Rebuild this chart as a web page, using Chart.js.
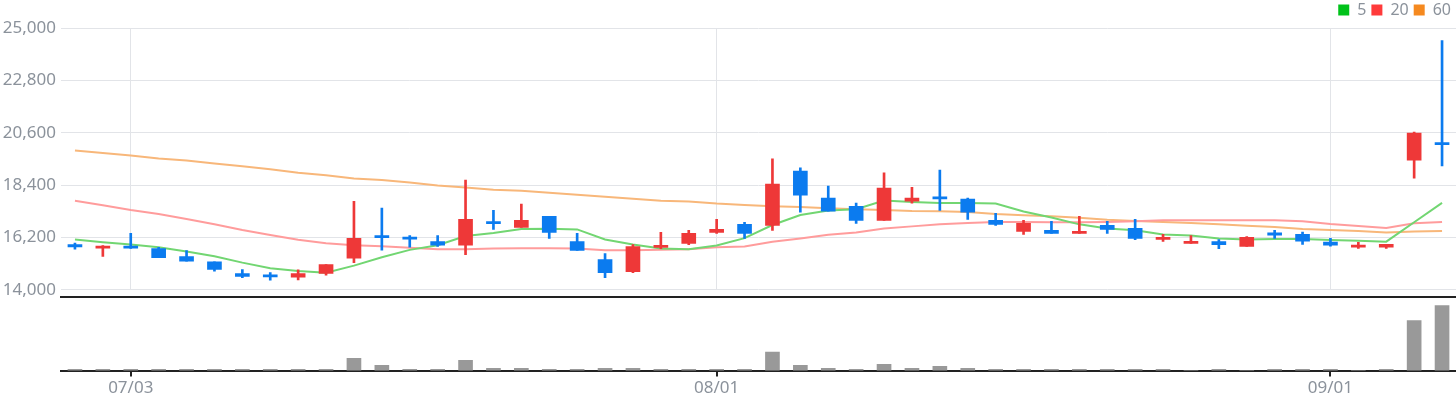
<!DOCTYPE html>
<html>
<head>
<meta charset="utf-8">
<script src="https://cdn.jsdelivr.net/npm/chart.js@4.4.0/dist/chart.umd.min.js"></script>
<style>
  html, body { margin: 0; padding: 0; background: #fff; overflow: hidden; }
  #wrap { position: relative; width: 1456px; height: 400px; overflow: hidden; }
  #price_chart { position: absolute; left: 0; top: -3px; }
  #volume_chart { position: absolute; left: 0; top: 296px; }
</style>
</head>
<body>
<div id="wrap">
  <canvas id="price_chart" width="1456" height="308"></canvas>
  <canvas id="volume_chart" width="1456" height="104"></canvas>
</div>
<script>
// trading days, 2023-06-29 .. 2023-09-07
const dates = ['06/29', '06/30', '07/03', '07/04', '07/05', '07/06', '07/07', '07/10', '07/11', '07/12',
  '07/13', '07/14', '07/17', '07/18', '07/19', '07/20', '07/21', '07/24', '07/25', '07/26',
  '07/27', '07/28', '07/31', '08/01', '08/02', '08/03', '08/04', '08/07', '08/08', '08/09',
  '08/10', '08/11', '08/14', '08/16', '08/17', '08/18', '08/21', '08/22', '08/23', '08/24',
  '08/25', '08/28', '08/29', '08/30', '08/31', '09/01', '09/04', '09/05', '09/06', '09/07'];
const monthTicks = ['07/03', '08/01', '09/01'];
const priceTicks = [14000, 16200, 18400, 20600, 22800, 25000];

const openPrices = [15900, 15750, 15830, 15730, 15400, 15180, 14680, 14600, 14530, 14690,
  15330, 16240, 16200, 16030, 15880, 16830, 16620, 17090, 16030, 15270,
  14760, 15780, 15950, 16410, 16750, 16710, 18990, 17850, 17510, 16920,
  17720, 17890, 17810, 16920, 16450, 16500, 16370, 16710, 16580, 16120,
  15950, 16030, 15820, 16390, 16330, 16000, 15790, 15790, 19450, 20170];
const highPrices = [15960, 15860, 16370, 15780, 15650, 15180, 14850, 14720, 14840, 15060,
  17720, 17430, 16280, 16280, 18610, 17340, 17600, 17090, 16370, 15520,
  15900, 16410, 16500, 16960, 16830, 19500, 19120, 18360, 17640, 18910,
  18310, 19030, 17850, 17210, 16920, 16880, 17090, 16880, 16960, 16330,
  16280, 16110, 16240, 16500, 16420, 16160, 15990, 15910, 20630, 24470];
const lowPrices = [15710, 15400, 15740, 15350, 15200, 14780, 14510, 14400, 14420, 14610,
  15140, 15660, 15790, 15820, 15480, 16540, 16620, 16160, 15650, 14510,
  14720, 15730, 15900, 16370, 16160, 16500, 17260, 17300, 16790, 16920,
  17640, 17340, 16960, 16710, 16330, 16370, 16370, 16370, 16110, 16030,
  15950, 15730, 15820, 16160, 15910, 15830, 15740, 15740, 18690, 19200];
const closePrices = [15800, 15820, 15750, 15350, 15200, 14860, 14560, 14540, 14680, 15060,
  16160, 16190, 16130, 15880, 16960, 16780, 16920, 16410, 15650, 14720,
  15820, 15860, 16370, 16540, 16370, 18440, 17980, 17300, 16920, 18270,
  17850, 17820, 17260, 16750, 16790, 16370, 16420, 16540, 16160, 16200,
  16030, 15900, 16200, 16300, 16040, 15870, 15870, 15910, 20590, 20100];

const ma5 = [16115, 16002, 15904, 15791, 15607, 15410, 15142, 14902, 14790, 14719,
  15015, 15368, 15678, 15875, 16256, 16383, 16552, 16566, 16538, 16115,
  15904, 15734, 15706, 15861, 16171, 16721, 17144, 17328, 17384, 17751,
  17694, 17652, 17652, 17624, 17290, 17040, 16750, 16580, 16500, 16320,
  16284, 16157, 16115, 16136, 16136, 16094, 16065, 16023, 16838, 17653];
const ma20 = [17737, 17553, 17356, 17187, 16975, 16750, 16510, 16298, 16101, 15960,
  15875, 15833, 15763, 15706, 15706, 15734, 15748, 15748, 15734, 15664,
  15664, 15678, 15706, 15791, 15819, 16016, 16157, 16312, 16411, 16580,
  16665, 16750, 16806, 16848, 16848, 16834, 16834, 16848, 16876, 16919,
  16919, 16919, 16922, 16922, 16880, 16768, 16684, 16599, 16796, 16852];
const ma60 = [19852, 19750, 19640, 19513, 19429, 19302, 19189, 19062, 18921, 18808,
  18681, 18611, 18512, 18385, 18300, 18202, 18160, 18075, 17990, 17906,
  17821, 17737, 17708, 17624, 17567, 17511, 17483, 17426, 17384, 17356,
  17314, 17299, 17271, 17187, 17130, 17088, 17032, 16947, 16891, 16848,
  16806, 16750, 16693, 16641, 16557, 16515, 16473, 16403, 16445, 16473];

const volumes = [40, 40, 40, 40, 40, 40, 40, 40, 40, 40,
  370, 160, 40, 40, 310, 70, 70, 40, 40, 70,
  70, 40, 40, 40, 40, 560, 160, 70, 40, 190,
  70, 130, 70, 40, 40, 40, 40, 40, 40, 40,
  8, 40, 8, 40, 40, 40, 8, 40, 1510, 1960];

const maNames = ['5', '20', '60'];
const maLegendColors = ['#00c21a', '#ff3a3a', '#f5891f'];
const maLineColors = ['#72d672', '#ff9c9c', '#f8b77a'];

const UP = '#ee3838';
const DOWN = '#0b7bef';
const GRAY = '#8b929b';
const GRID = '#e2e4e8';

Chart.defaults.font.family = "'Noto Sans', sans-serif";
Chart.defaults.font.size = 17;

const candleColors = dates.map((d, i) => closePrices[i] >= openPrices[i] ? UP : DOWN);
const onlyMonthTicks = axis => {
  axis.ticks = axis.ticks.filter(t => monthTicks.includes(dates[t.value]));
};

const PriceChart = document.getElementById('price_chart').getContext('2d');
new Chart(PriceChart, {
  type: 'bar',
  data: {
    labels: dates,
    datasets: [
      {
        label: 'wick',
        data: dates.map((d, i) => [lowPrices[i], highPrices[i]]),
        backgroundColor: candleColors,
        barThickness: 2,
        grouped: false,
        order: 1
      },
      {
        label: 'body',
        data: dates.map((d, i) => [openPrices[i], closePrices[i]]),
        backgroundColor: candleColors,
        barThickness: 14,
        minBarLength: 2,
        grouped: false,
        order: 0
      },
      ...[ma5, ma20, ma60].map((vals, k) => ({
        type: 'line',
        label: maNames[k],
        data: vals,
        borderColor: maLineColors[k],
        backgroundColor: maLegendColors[k],
        borderWidth: 2,
        pointRadius: 0,
        tension: 0,
        fill: false,
        order: 2
      }))
    ]
  },
  options: {
    responsive: false,
    animation: false,
    layout: { padding: { left: 0, right: 0, top: 0, bottom: 8 } },
    plugins: {
      tooltip: { enabled: false },
      legend: {
        position: 'top',
        align: 'end',
        labels: {
          boxWidth: 11,
          boxHeight: 11,
          padding: 5,
          color: GRAY,
          font: { size: 16 },
          generateLabels: () => maNames.map((name, i) => ({
            text: name,
            fillStyle: maLegendColors[i],
            strokeStyle: maLegendColors[i],
            lineWidth: 0,
            hidden: false,
            datasetIndex: i + 2,
            fontColor: GRAY
          }))
        }
      }
    },
    scales: {
      x: {
        offset: true,
        afterBuildTicks: onlyMonthTicks,
        ticks: { display: false, autoSkip: false },
        grid: { color: GRID, drawTicks: false, offset: false },
        border: { display: false }
      },
      y: {
        min: 14000,
        max: 25000,
        afterBuildTicks: axis => { axis.ticks = priceTicks.map(v => ({ value: v })); },
        afterFit: axis => { axis.width = 61; },
        ticks: {
          color: GRAY,
          padding: 5,
          callback: v => Number(v).toLocaleString('en-US')
        },
        grid: { color: GRID, drawTicks: false },
        border: { display: false }
      }
    }
  }
});

const VolumeChart = document.getElementById('volume_chart').getContext('2d');
new Chart(VolumeChart, {
  type: 'bar',
  data: {
    labels: dates,
    datasets: [{
      label: 'volume',
      data: volumes,
      backgroundColor: '#999999',
      barThickness: 14
    }]
  },
  options: {
    responsive: false,
    animation: false,
    layout: { padding: { left: 61, right: 0, top: 1, bottom: 1 } },
    plugins: { legend: { display: false }, tooltip: { enabled: false } },
    scales: {
      x: {
        position: 'bottom',
        afterBuildTicks: onlyMonthTicks,
        ticks: { color: GRAY, padding: 1, autoSkip: false, maxRotation: 0 },
        grid: { drawOnChartArea: false, drawTicks: true, tickLength: 6, color: '#222222', lineWidth: 2, offset: false },
        border: { display: true, color: '#222222', width: 2 }
      },
      xTop: {
        type: 'category',
        position: 'top',
        ticks: { display: false },
        grid: { display: false, drawTicks: false },
        border: { display: true, color: '#222222', width: 2 }
      },
      y: {
        display: false,
        min: 0,
        max: 2220
      }
    }
  }
});
</script>
</body>
</html>
